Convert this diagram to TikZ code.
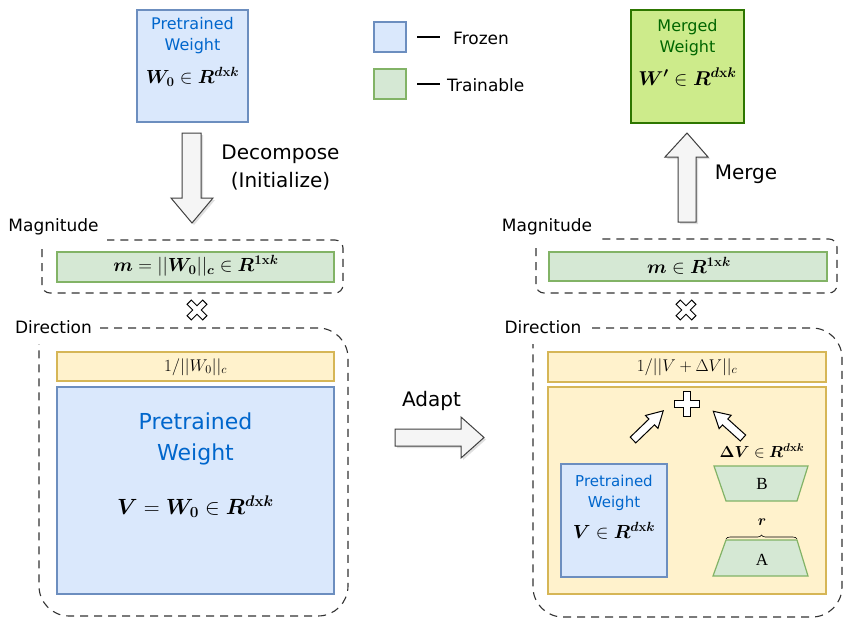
\RequirePackage{fix-cm}
\documentclass[tikz,border=0pt]{standalone}
\usepackage{amsmath,bm}
\usepackage[no-math]{fontspec}
\setmainfont{DejaVu Sans}
\newfontfamily\tms{Liberation Serif}
\usetikzlibrary{shadows,decorations.pathreplacing}
\definecolor{frozenfill}{HTML}{DAE8FC}
\definecolor{frozenline}{HTML}{6C8EBF}
\definecolor{trainfill}{HTML}{D5E8D4}
\definecolor{trainline}{HTML}{82B366}
\definecolor{yelfill}{HTML}{FFF2CC}
\definecolor{yelline}{HTML}{D6B656}
\definecolor{mergefill}{HTML}{CDEB8B}
\definecolor{mergeline}{HTML}{2D7600}
\definecolor{bluetext}{HTML}{0066CC}
\definecolor{greentext}{HTML}{006600}
\newcommand\fsz[2]{\fontsize{#1}{#2}\selectfont}
\begin{document}
\begin{tikzpicture}[x=1pt,y=-1pt,
  frozen/.style={draw=frozenline, fill=frozenfill, line width=1.2pt},
  trainable/.style={draw=trainline, fill=trainfill, line width=1.2pt},
  yel/.style={draw=yelline, fill=yelfill, line width=1.2pt},
  merged/.style={draw=mergeline, fill=mergefill, line width=1.2pt},
  dashbox/.style={draw=black!80, line width=1.1pt, dash pattern=on 8pt off 6pt, rounded corners=#1},
  blockarrow/.style={draw=black!75, fill=black!4, line width=1pt, drop shadow={shadow xshift=2pt, shadow yshift=-2pt, opacity=0.25}},
  outlined/.style={draw=black, fill=white, line width=1pt},
  lbl/.style={inner sep=0pt, font=\fsz{17}{20}},
  biglbl/.style={inner sep=0pt, font=\fsz{20}{28}, align=center},
  bluelbl/.style={inner sep=0pt, text=bluetext, align=center},
  mth/.style={inner sep=0pt}]
\fill[white] (0,0) rectangle (855,641);
\useasboundingbox (0,0) rectangle (855,641);

% ---------- left: pretrained weight ----------
\draw[frozen] (137,10) rectangle (248,122);
\node[bluelbl, font=\fsz{16}{21}] (pwtop) at (192.5,36) {Pretrained\\Weight};
\node[mth, font=\fsz{19}{22}] (w0top) at (192.5,77) {$\bm{W_0} \in \bm{R}^{\bm{d}\mathbf{x}\bm{k}}$};

% decompose arrow
\draw[blockarrow] (182,133) -- (201,133) -- (201,198) -- (213,198) -- (192,223) -- (171,198) -- (182,198) -- cycle;
\node[biglbl] (decomp) at (280.5,168) {Decompose\\(Initialize)};

% magnitude left
\node[lbl] (magL) at (53.5,227) {Magnitude};
\draw[dashbox=8] (42,249) -- (42,293) -- (343,293) -- (343,240) -- (107,240);
\draw[trainable] (57,252) rectangle (334,282);
\node[mth, font=\fsz{19}{22}] (mL) at (196,266) {$\bm{m} = ||\bm{W_0}||_{\bm{c}} \in \bm{R}^{\mathbf{1x}\bm{k}}$};

% times left
\begin{scope}[shift={(197,310)}, rotate=45]
\draw[outlined] (-3,-11) -- (3,-11) -- (3,-3) -- (11,-3) -- (11,3) -- (3,3) -- (3,11) -- (-3,11) -- (-3,3) -- (-11,3) -- (-11,-3) -- (-3,-3) -- cycle;
\end{scope}

% direction left
\node[lbl] (dirL) at (53.5,327) {Direction};
\draw[dashbox=30] (100,328) -- (348,328) -- (348,616) -- (39,616) -- (39,344);
\draw[yel] (57,352) rectangle (334,381);
\node[mth, font=\fsz{17}{20}] (normL) at (195.5,367) {$1/||W_0||_c$};
\draw[frozen] (57,387) rectangle (334,594);
\node[bluelbl, font=\fsz{22}{31}] (pwbig) at (195.5,438.5) {Pretrained\\Weight};
\node[mth, font=\fsz{22}{26}] (vbig) at (195.5,507) {$\bm{V} = \bm{W_0} \in \bm{R}^{\bm{d}\mathbf{x}\bm{k}}$};

% adapt arrow
\draw[blockarrow] (395,429) -- (461,429) -- (461,417) -- (484,437.5) -- (461,458) -- (461,446) -- (395,446) -- cycle;
\node[biglbl] (adapt) at (431.5,401) {Adapt};

% ---------- legend ----------
\draw[frozen] (374,22) rectangle (406,52);
\draw[trainable] (374,69) rectangle (406,99);
\draw[line width=2.6pt] (417,37) -- (440,37);
\draw[line width=2.6pt] (417,84) -- (440,84);
\node[lbl, anchor=west] (frz) at (453,38) {Frozen};
\node[lbl, anchor=west] (trn) at (447,85) {Trainable};

% ---------- right: merged weight ----------
\draw[merged] (631,10) rectangle (744,123);
\node[inner sep=0pt, text=greentext, align=center, font=\fsz{16}{21}] (mwtop) at (687.5,38) {Merged\\Weight};
\node[mth, font=\fsz{20}{23}] (wprime) at (687.5,77) {$\bm{W'} \in \bm{R}^{\bm{d}\mathbf{x}\bm{k}}$};

% merge arrow
\draw[blockarrow] (678,222) -- (696,222) -- (696,157) -- (708,157) -- (687,133) -- (665,157) -- (678,157) -- cycle;
\node[biglbl] (merge) at (746,174) {Merge};

% magnitude right
\node[lbl] (magR) at (547,227) {Magnitude};
\draw[dashbox=8] (536,248) -- (536,293) -- (837,293) -- (837,239) -- (600,239);
\draw[trainable] (549,252) rectangle (827,281);
\node[mth, font=\fsz{19}{22}] (mR) at (689,265.5) {$\bm{m} \in \bm{R}^{\mathbf{1x}\bm{k}}$};

% times right
\begin{scope}[shift={(686,310)}, rotate=45]
\draw[outlined] (-3,-11) -- (3,-11) -- (3,-3) -- (11,-3) -- (11,3) -- (3,3) -- (3,11) -- (-3,11) -- (-3,3) -- (-11,3) -- (-11,-3) -- (-3,-3) -- cycle;
\end{scope}

% direction right
\node[lbl] (dirR) at (543,327) {Direction};
\draw[dashbox=30] (592,328) -- (842,328) -- (842,617) -- (533,617) -- (533,344);
\draw[yel] (548,352) rectangle (826,382);
\node[mth, font=\fsz{17}{20}] (normR) at (687,367) {$1/||V+\Delta V||_c$};
\draw[yel] (548,387) rectangle (826,594);

% plus
\begin{scope}[shift={(687,404)}]
\draw[outlined] (-3.5,-12.5) -- (3.5,-12.5) -- (3.5,-3.5) -- (12.5,-3.5) -- (12.5,3.5) -- (3.5,3.5) -- (3.5,12.5) -- (-3.5,12.5) -- (-3.5,3.5) -- (-12.5,3.5) -- (-12.5,-3.5) -- (-3.5,-3.5) -- cycle;
\end{scope}
% diagonal arrows
\begin{scope}[shift={(633,440)}, rotate=44]
\draw[outlined] (0,-4) -- (26,-4) -- (26,-9) -- (42,0) -- (26,9) -- (26,4) -- (0,4) -- cycle;
\end{scope}
\begin{scope}[shift={(743,438)}, rotate=138]
\draw[outlined] (0,-4) -- (24,-4) -- (24,-9) -- (40,0) -- (24,9) -- (24,4) -- (0,4) -- cycle;
\end{scope}

% small pretrained weight
\draw[frozen] (561,464) rectangle (667,577);
\node[bluelbl, font=\fsz{15}{21}] (pwsmall) at (614,492.5) {Pretrained\\Weight};
\node[mth, font=\fsz{19}{22}] (vsmall) at (614,531) {$\bm{V} \in \bm{R}^{\bm{d}\mathbf{x}\bm{k}}$};

% delta V, B, A
\node[mth, font=\fsz{16}{19}] (dv) at (762,451) {$\bm{\Delta V} \in \bm{R}^{\bm{d}\mathbf{x}\bm{k}}$};
\draw[trainable] (714,466) -- (808,466) -- (797,501) -- (726,501) -- cycle;
\node[inner sep=0pt, font=\tms\fsz{17}{20}] (B) at (762,484) {B};
\draw[trainable] (726,540) -- (797,540) -- (808,576) -- (713,576) -- cycle;
\node[inner sep=0pt, font=\tms\fsz{17}{20}] (A) at (762,560) {A};
\coordinate (brL) at (726,539);
\coordinate (brR) at (797,539);
\draw[line width=0.6pt, decorate, decoration={brace, amplitude=4pt}] (brL) -- (brR);
\node[mth, font=\fsz{15}{18}] (r) at (762,522) {$\bm{r}$};
\end{tikzpicture}
\end{document}
